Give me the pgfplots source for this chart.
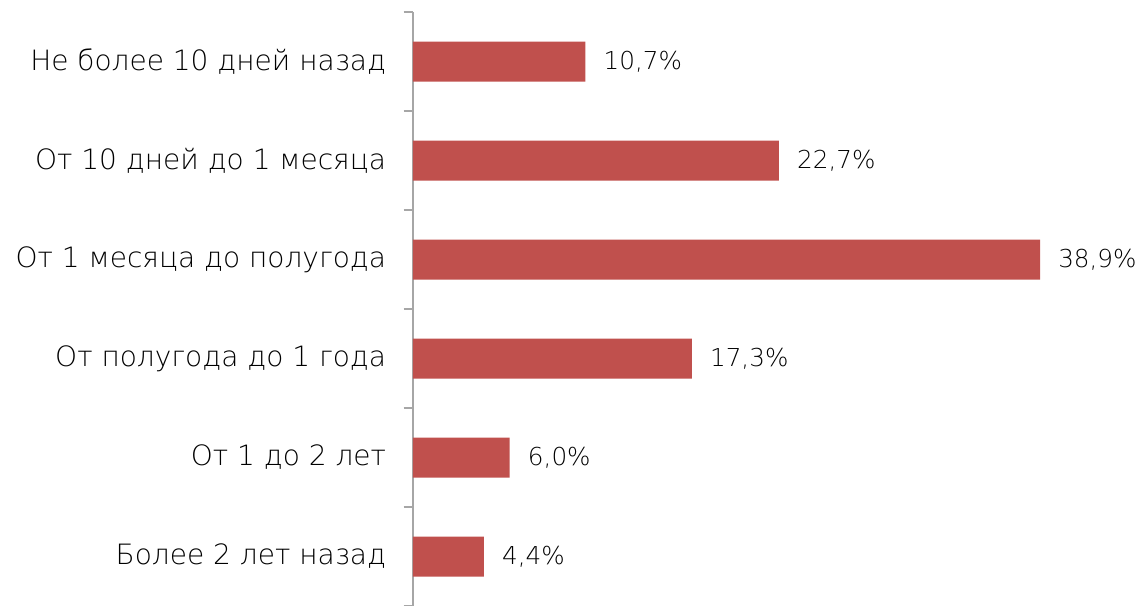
\documentclass[border=0pt]{standalone}
\usepackage{pgfplots}
\pgfplotsset{compat=1.18}
\usepackage{fontspec}
\IfFontExistsTF{DejaVu Sans ExtraLight}{\setmainfont{DejaVu Sans ExtraLight}}{\setmainfont{DejaVu Sans}}
\definecolor{barred}{HTML}{C0504D}
\definecolor{axgray}{HTML}{A6A6A6}
\begin{document}
\begin{tikzpicture}
\path[use as bounding box] (-309.75pt,0pt) rectangle (546.75pt,454.5pt);
\begin{axis}[
  at={(0pt,0pt)}, anchor=south west,
  scale only axis,
  width=544pt, height=445.5pt,
  xmin=0, xmax=45,
  ymin=-0.5, ymax=5.5,
  y dir=reverse,
  axis x line=none,
  axis y line*=left,
  axis line style={draw=axgray, line width=1pt, -},
  ytick={0,1,2,3,4,5},
  yticklabels={Не более 10 дней назад, От 10 дней до 1 месяца, От 1 месяца до полугода, От полугода до 1 года, От 1 до 2 лет, Более 2 лет назад},
  major tick length=0pt,
  minor ytick={-0.5,0.5,1.5,2.5,3.5,4.5,5.5},
  minor tick length=7pt,
  tick align=outside,
  minor tick style={draw=axgray, line width=1pt},
  yticklabel style={font=\fontsize{21}{25}\selectfont, inner sep=0pt, xshift=-20pt},
  xbar, bar width=30pt,
  point meta=explicit symbolic,
  nodes near coords,
  nodes near coords style={font=\fontsize{18.5}{22}\selectfont, anchor=west, inner sep=0pt, xshift=13.5pt, text=black},
  clip=false,
]
\addplot[fill=barred, draw=none] coordinates {
  (10.7,0) [10,7\%]
  (22.7,1) [22,7\%]
  (38.9,2) [38,9\%]
  (17.3,3) [17,3\%]
  (6.0,4) [6,0\%]
  (4.4,5) [4,4\%]
};
\end{axis}
\end{tikzpicture}
\end{document}
